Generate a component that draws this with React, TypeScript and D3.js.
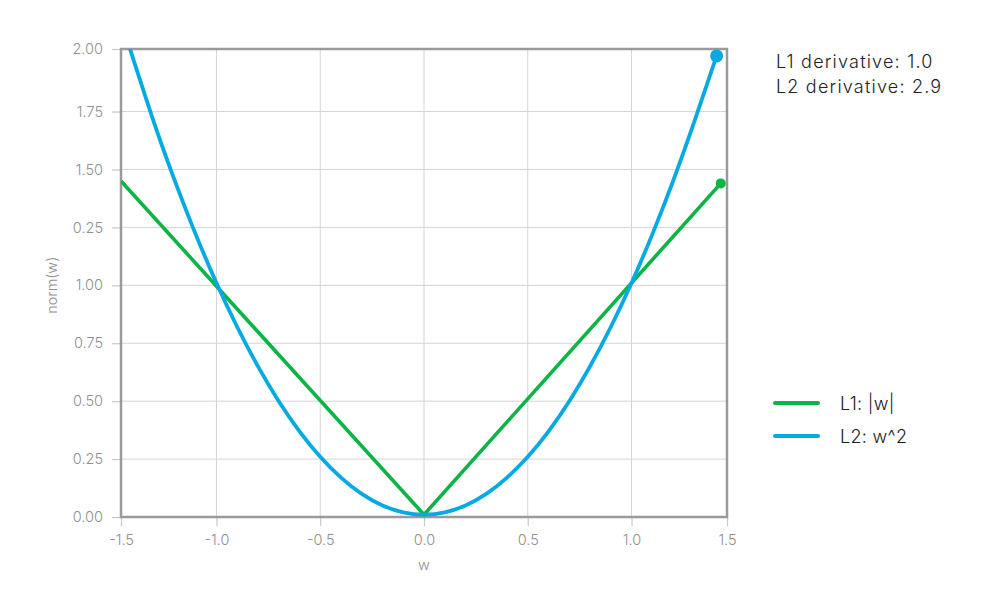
import { useEffect, useRef } from "react";
import * as d3 from "d3";

// x axis: end ticks sit on the frame edges
const wTicks = [-1.46, -1.0, -0.5, 0, 0.5, 1.0, 1.46];
const wTickLabels = ["-1.5", "-1.0", "-0.5", "0.0", "0.5", "1.0", "1.5"];
// y axis (the 1.25 row is labelled "0.25" in the original)
const normTicks = [0, 0.25, 0.5, 0.75, 1.0, 1.25, 1.5, 1.75, 2.02];
const normTickLabels = ["0.00", "0.25", "0.50", "0.75", "1.00", "0.25", "1.50", "1.75", "2.00"];

// L1: |w|
const l1W = [-1.46, 0, 1.43];
const l1V = [1.45, 0.01, 1.44];

// L2: w^2
const l2W = [-1.42, -1.3, -1.2, -1.1, -1.0, -0.9, -0.8, -0.7, -0.6, -0.5, -0.4, -0.3, -0.2, -0.1, 0,
  0.1, 0.2, 0.3, 0.4, 0.5, 0.6, 0.7, 0.8, 0.9, 1.0, 1.1, 1.2, 1.3, 1.41];
const l2V = [2.03, 1.7, 1.45, 1.22, 1.01, 0.82, 0.65, 0.5, 0.37, 0.26, 0.17, 0.1, 0.05, 0.02, 0.01,
  0.02, 0.05, 0.1, 0.17, 0.26, 0.37, 0.5, 0.65, 0.82, 1.01, 1.22, 1.45, 1.7, 1.99];

// current point markers
const markerSeries = ["L1", "L2"];
const markerW = [1.43, 1.41];
const markerV = [1.44, 1.99];

const seriesNames = ["L1: |w|", "L2: w^2"];
const seriesColors = ["#0bb444", "#05aae2"];
const derivativeLines = ["L1 derivative: 1.0", "L2 derivative: 2.9"];

export default function App() {
  const svgRef = useRef<SVGSVGElement | null>(null);

  useEffect(() => {
    const svg = d3.select(svgRef.current);
    svg.selectAll("*").remove();

    const width = 1000;
    const height = 600;
    const margin = { top: 49, right: 273, bottom: 83, left: 121 };
    const font = "Inter, 'Noto Sans', sans-serif";

    const x = d3.scaleLinear().domain([-1.46, 1.46]).range([margin.left, width - margin.right]);
    const y = d3.scaleLinear().domain([0, 2.02]).range([height - margin.bottom, margin.top]);

    svg.attr("viewBox", `0 0 ${width} ${height}`);
    svg.append("rect").attr("width", width).attr("height", height).attr("fill", "#fff");

    // grid
    svg.append("g")
      .selectAll("line")
      .data(wTicks)
      .enter()
      .append("line")
      .attr("x1", (d) => x(d))
      .attr("x2", (d) => x(d))
      .attr("y1", margin.top)
      .attr("y2", height - margin.bottom)
      .attr("stroke", "#d4d4d4")
      .attr("stroke-width", 1);

    svg.append("g")
      .selectAll("line")
      .data(normTicks)
      .enter()
      .append("line")
      .attr("x1", margin.left)
      .attr("x2", width - margin.right)
      .attr("y1", (d) => y(d))
      .attr("y2", (d) => y(d))
      .attr("stroke", "#d4d4d4")
      .attr("stroke-width", 1);

    // axes
    const xAxis = svg.append("g")
      .attr("transform", `translate(0,${height - margin.bottom})`)
      .call(
        d3.axisBottom(x)
          .tickValues(wTicks)
          .tickFormat((_, i) => wTickLabels[i])
          .tickSize(9)
          .tickPadding(9)
      );
    const yAxis = svg.append("g")
      .attr("transform", `translate(${margin.left},0)`)
      .call(
        d3.axisLeft(y)
          .tickValues(normTicks)
          .tickFormat((_, i) => normTickLabels[i])
          .tickSize(9)
          .tickPadding(9)
      );
    [xAxis, yAxis].forEach((g) => {
      g.select(".domain").remove();
      g.selectAll(".tick line").attr("stroke", "#c8c8c8").attr("stroke-width", 1.2);
      g.selectAll(".tick text")
        .attr("fill", "#8f8f8f")
        .style("font-family", font)
        .style("font-size", "14.5px")
        .style("font-weight", "300");
    });

    // frame
    svg.append("rect")
      .attr("x", margin.left)
      .attr("y", margin.top)
      .attr("width", width - margin.left - margin.right)
      .attr("height", height - margin.top - margin.bottom)
      .attr("fill", "none")
      .attr("stroke", "#9a9a9a")
      .attr("stroke-width", 2.5);

    // axis titles
    svg.append("text")
      .attr("x", x(0))
      .attr("y", 570)
      .attr("text-anchor", "middle")
      .attr("fill", "#8f8f8f")
      .style("font-family", font)
      .style("font-size", "14.5px")
      .style("font-weight", "300")
      .text("w");
    svg.append("text")
      .attr("transform", `translate(57,${y(1)}) rotate(-90)`)
      .attr("text-anchor", "middle")
      .attr("fill", "#8f8f8f")
      .style("font-family", font)
      .style("font-size", "14.5px")
      .style("font-weight", "300")
      .text("norm(w)");

    // lines
    svg.append("defs")
      .append("clipPath")
      .attr("id", "plot-clip")
      .append("rect")
      .attr("x", margin.left)
      .attr("y", margin.top)
      .attr("width", width - margin.left - margin.right)
      .attr("height", height - margin.top - margin.bottom);

    const straight = d3.line<[number, number]>()
      .x((d) => x(d[0]))
      .y((d) => y(d[1]));
    const smooth = d3.line<[number, number]>()
      .x((d) => x(d[0]))
      .y((d) => y(d[1]))
      .curve(d3.curveNatural);

    const l1Pts = l1W.map((w, i) => [w, l1V[i]] as [number, number]);
    const l2Pts = l2W.map((w, i) => [w, l2V[i]] as [number, number]);

    const lines = svg.append("g").attr("clip-path", "url(#plot-clip)");
    lines.append("path")
      .attr("d", straight(l1Pts))
      .attr("fill", "none")
      .attr("stroke", seriesColors[0])
      .attr("stroke-width", 3.6);
    lines.append("path")
      .attr("d", smooth(l2Pts))
      .attr("fill", "none")
      .attr("stroke", seriesColors[1])
      .attr("stroke-width", 3.8);

    // markers
    svg.append("g")
      .selectAll("circle")
      .data(markerSeries)
      .enter()
      .append("circle")
      .attr("cx", (_, i) => x(markerW[i]))
      .attr("cy", (_, i) => y(markerV[i]))
      .attr("r", (d) => (d === "L1" ? 5 : 6.5))
      .attr("fill", (_, i) => seriesColors[i]);

    // derivative readout
    svg.append("g")
      .selectAll("text")
      .data(derivativeLines)
      .enter()
      .append("text")
      .attr("x", 776)
      .attr("y", (_, i) => 68 + i * 25)
      .attr("fill", "#222")
      .style("font-family", font)
      .style("font-size", "18px")
      .style("font-weight", "300")
      .style("letter-spacing", "1.2px")
      .text((d) => d);

    // legend
    const legend = svg.append("g").attr("transform", "translate(775,403)");
    seriesNames.forEach((name, i) => {
      const row = legend.append("g").attr("transform", `translate(0,${i * 33})`);
      row.append("line")
        .attr("x1", 0)
        .attr("x2", 43)
        .attr("stroke", seriesColors[i])
        .attr("stroke-width", 4)
        .attr("stroke-linecap", "round");
      row.append("text")
        .attr("x", 65)
        .attr("y", 6.5)
        .attr("fill", "#222")
        .style("font-family", font)
        .style("font-size", "18px")
        .style("font-weight", "300")
        .style("letter-spacing", "0.3px")
        .text(name);
    });
  }, []);

  return (
    <svg
      ref={svgRef}
      width={1000}
      height={600}
      style={{ position: "absolute", left: 0, top: 0, display: "block" }}
    />
  );
}
